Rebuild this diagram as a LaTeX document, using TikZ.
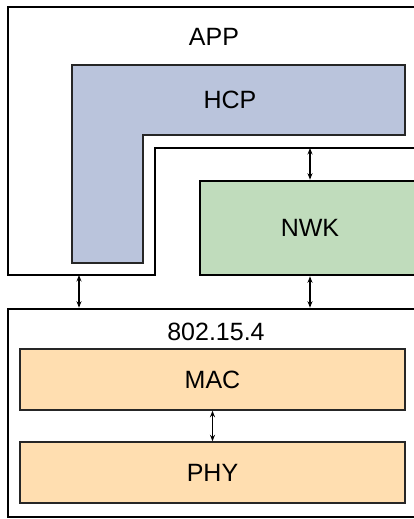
\documentclass[tikz,border=0pt]{standalone}
\usepackage{fontspec}
\setmainfont{Liberation Sans}
\usetikzlibrary{arrows.meta}
\definecolor{hcpfill}{RGB}{186,196,220}
\definecolor{nwkfill}{RGB}{192,220,188}
\definecolor{macfill}{RGB}{255,222,176}
\begin{document}
\begin{tikzpicture}[
    x=1pt, y=-1pt,
    >={Stealth[length=6.5pt,width=5pt]},
    every node/.style={font=\fontsize{25}{29}\selectfont},
    layerbox/.style={
        draw,
        line width=2.6pt
    },
    subbox/.style={
        draw=black!85,
        line width=1.4pt,
        fill=macfill,
        minimum width=385pt,
        minimum height=61pt
    },
    arr/.style={<->, line width=1.4pt}
]
    \useasboundingbox (0,0) rectangle (414,519);
    \clip (0,0) rectangle (414,519);

    % APP layer
    \draw[layerbox] (8,7) -- (420,7) -- (420,148) -- (155,148) -- (155,275) -- (8,275) -- cycle;
    \node (app) at (214,37) {APP};
    \coordinate (appstep) at (310,148);
    \coordinate (appfoot) at (79,275);

    % HCP
    \draw[draw=black!85, line width=1.2pt, fill=hcpfill]
        (72,65) -- (405,65) -- (405,135) -- (143,135) -- (143,263) -- (72,263) -- cycle;
    \node (hcp) at (230,100) {HCP};

    % NWK
    \node[
        layerbox,
        fill=nwkfill,
        minimum width=220pt,
        minimum height=94pt
    ] (nwk) at (310,228) {NWK};

    % 802.15.4
    \node[
        layerbox,
        minimum width=412pt,
        minimum height=208pt
    ] (stack) at (214,413) {};
    \node (stacklabel) at (216,332) {802.15.4};

    \node[subbox] (mac) at (212.5,379.5) {MAC};
    \node[subbox] (phy) at (212.5,472.5) {PHY};

    \draw[arr] (nwk.north) -- (appstep);
    \draw[arr] (nwk.south) -- (nwk.south |- stack.north);
    \draw[arr] (appfoot) -- (appfoot |- stack.north);
    \draw[arr] (mac.south) -- (phy.north);

\end{tikzpicture}
\end{document}
